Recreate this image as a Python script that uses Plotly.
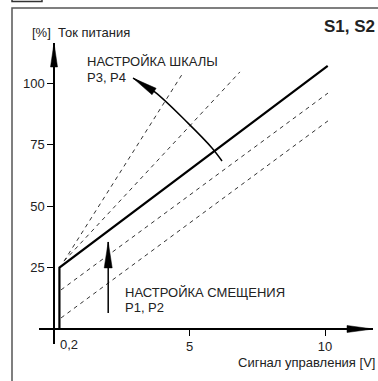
import math
import plotly.graph_objects as go

# ---------------- data ----------------
# solid characteristic (control signal V, supply current %)
main_x = [0.2, 0.2, 10.1]
main_y = [0.0, 25.0, 107.0]

# dashed variants: scale adjustment (steeper) and offset adjustment (shifted)
scale1_x = [0.37, 4.76]
scale1_y = [27.6, 104.1]
scale2_x = [0.37, 6.86]
scale2_y = [27.6, 104.5]
offset1_x = [0.26, 10.11]
offset1_y = [15.9, 95.9]
offset2_x = [0.26, 10.11]
offset2_y = [4.5, 84.6]

# curved "scale" arrow and straight "offset" arrow
scale_arc_x = [6.2, 5.83, 4.945, 3.727, 2.915]
scale_arc_y = [68.3, 73.6, 83.7, 96.3, 102.0]
offset_arrow_x = [2.0, 2.0]
offset_arrow_y = [6.5, 35.4]

x_tick_vals = [0.2, 5, 10]
x_tick_text = ["0,2", "5", "10"]
y_tick_vals = [25, 50, 75, 100]
y_tick_text = ["25", "50", "75", "100"]

# ---------------- layout geometry ----------------
W, H = 378, 381
X0PX, XSCALE = 54.0, 27.1     # pixel of V=0, px per V
Y0PX, YSCALE = 329.0, 2.46    # pixel of 0 %, px per %
XDOM = (39.0, 373.0)
YDOM = (43.0, 344.0)

def px(v):
    return X0PX + XSCALE * v

def py(y):
    return Y0PX - YSCALE * y

def PX(p):
    return p / W

def PY(p):
    return 1 - p / H

FONT = "Liberation Sans, Arial, sans-serif"
TXT = "#222222"

fig = go.Figure()

dash = "4px,4px"
for xs, ys in [(scale1_x, scale1_y), (scale2_x, scale2_y),
               (offset1_x, offset1_y), (offset2_x, offset2_y)]:
    fig.add_trace(go.Scatter(x=xs, y=ys, mode="lines",
                             line=dict(color="#333333", width=1, dash=dash),
                             hoverinfo="skip", showlegend=False))

fig.add_trace(go.Scatter(x=main_x, y=main_y, mode="lines",
                         line=dict(color="black", width=2.2),
                         hoverinfo="skip", showlegend=False))

fig.add_trace(go.Scatter(x=scale_arc_x, y=scale_arc_y, mode="lines",
                         line=dict(color="black", width=1.5, shape="spline"),
                         hoverinfo="skip", showlegend=False))
fig.add_trace(go.Scatter(x=offset_arrow_x, y=offset_arrow_y, mode="lines",
                         line=dict(color="black", width=1.5),
                         hoverinfo="skip", showlegend=False))

shapes = []

def arrowhead(tip, frm, length, half):
    tx, ty = tip
    fx, fy = frm
    dx, dy = tx - fx, ty - fy
    n = math.hypot(dx, dy)
    dx, dy = dx / n, dy / n
    bx, by = tx - length * dx, ty - length * dy
    nx, ny = -dy, dx
    pts = [(tx, ty), (bx + half * nx, by + half * ny), (bx - half * nx, by - half * ny)]
    path = "M " + " L ".join(f"{PX(a):.5f},{PY(b):.5f}" for a, b in pts) + " Z"
    shapes.append(dict(type="path", xref="paper", yref="paper", path=path,
                       fillcolor="black", line=dict(color="black", width=0.5)))

# axis arrowheads
arrowhead((px(0), YDOM[0]), (px(0), YDOM[0] + 10), 24, 3.5)
arrowhead((XDOM[1], py(0)), (XDOM[1] - 10, py(0)), 26, 3.5)
# offset arrow head
arrowhead((px(offset_arrow_x[-1]), py(offset_arrow_y[-1])),
          (px(offset_arrow_x[0]), py(offset_arrow_y[0])), 26, 4)
# scale arrow head
arrowhead((px(scale_arc_x[-1]), py(scale_arc_y[-1])),
          (px(scale_arc_x[-2]), py(scale_arc_y[-2])), 25, 3.8)

# frame and small tab
shapes.append(dict(type="rect", xref="paper", yref="paper",
                   x0=PX(12), x1=PX(390), y0=PY(8), y1=PY(395),
                   line=dict(color="#555555", width=1.5)))
shapes.append(dict(type="rect", xref="paper", yref="paper",
                   x0=PX(12), x1=PX(42), y0=PY(-6), y1=PY(1.5),
                   line=dict(color="#333333", width=1.5)))

ann = []
def text(t, x, y, xa="left", size=13, bold=False):
    ann.append(dict(text=f"<b>{t}</b>" if bold else t, x=PX(x), y=PY(y),
                    xref="paper", yref="paper", xanchor=xa, yanchor="middle",
                    showarrow=False, font=dict(family=FONT, size=size, color=TXT)))

text("[%]\u00a0\u00a0Ток питания", 30, 33)
text("S1, S2", 377, 27, xa="right", size=17, bold=True)
text("НАСТРОЙКА ШКАЛЫ", 85, 62)
text("P3, P4", 85, 77)
text("НАСТРОЙКА СМЕЩЕНИЯ", 123, 292)
text("P1, P2", 123, 307)
text("Сигнал управления [V]", 377, 362, xa="right")
text(x_tick_text[0], px(x_tick_vals[0]) - 1, 344)

fig.update_layout(
    width=W, height=H, margin=dict(l=0, r=0, t=0, b=0),
    paper_bgcolor="white", plot_bgcolor="rgba(0,0,0,0)",
    shapes=shapes, annotations=ann, showlegend=False,
    font=dict(family=FONT, size=13, color=TXT),
    xaxis=dict(domain=[PX(XDOM[0]), PX(XDOM[1])],
               range=[(XDOM[0] - X0PX) / XSCALE, (XDOM[1] - X0PX) / XSCALE],
               anchor="free", position=PY(Y0PX),
               showline=True, linecolor="black", linewidth=1.5,
               showgrid=False, zeroline=False,
               ticks="outside", ticklen=6, tickwidth=1, tickcolor="black",
               tickvals=x_tick_vals[1:], ticktext=x_tick_text[1:],
               tickfont=dict(family=FONT, size=13, color=TXT)),
    yaxis=dict(domain=[PY(YDOM[1]), PY(YDOM[0])],
               range=[(Y0PX - YDOM[1]) / YSCALE, (Y0PX - YDOM[0]) / YSCALE],
               anchor="free", position=PX(X0PX),
               showline=True, linecolor="black", linewidth=1.5,
               showgrid=False, zeroline=False,
               ticks="outside", ticklen=6, tickwidth=1, tickcolor="black",
               tickvals=y_tick_vals, ticktext=y_tick_text,
               tickfont=dict(family=FONT, size=13, color=TXT)),
)

fig.write_html("out.html", config={"displayModeBar": False},
               post_script="document.body.style.margin='0';document.body.style.overflow='hidden';")
